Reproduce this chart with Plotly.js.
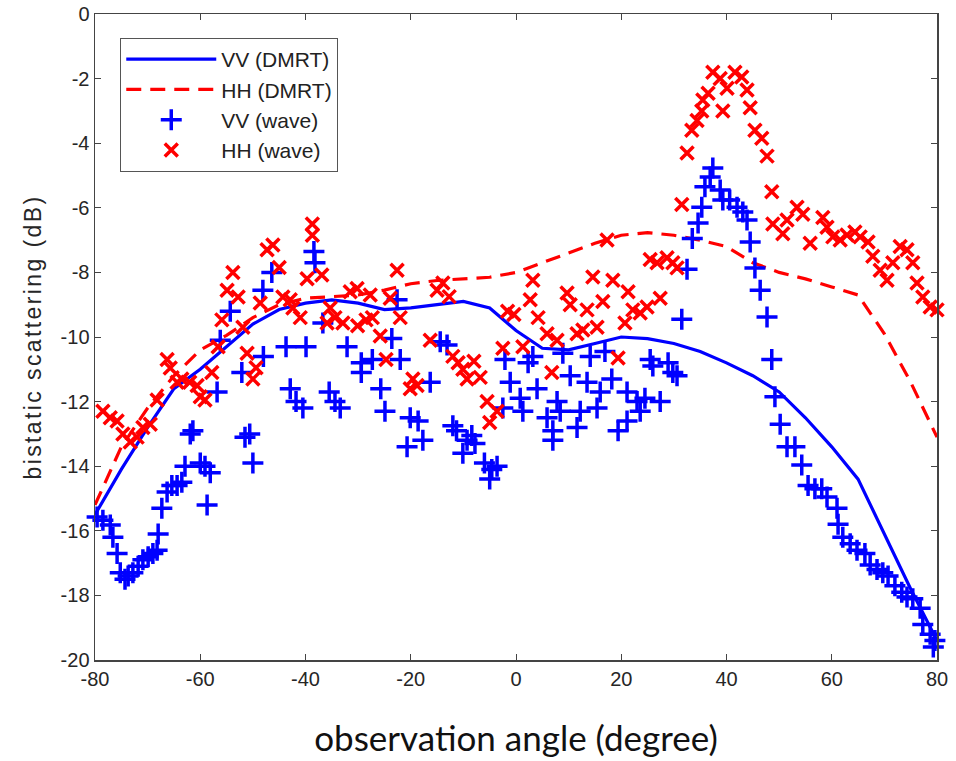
<!DOCTYPE html>
<html>
<head>
<meta charset="utf-8">
<script src="https://cdn.plot.ly/plotly-3.0.1.min.js"></script>
<style>
html,body{margin:0;padding:0;background:#fff;}
#chart{width:956px;height:761px;}
#chart .g-ytitle text{letter-spacing:2.4px;}
</style>
</head>
<body>
<div id="chart"></div>
<script>
// DMRT model curves
const dmrtAngle = [-80,-75,-70,-65,-60,-55,-50,-45,-40,-35,-30,-25,-20,-15,-10,-5,0,5,10,15,20,25,30,35,40,45,50,55,60,65,70,75,80];
const vvDmrt = [-15.5,-14.1,-12.8,-11.6,-11.0,-10.3,-9.6,-9.15,-8.95,-8.85,-8.95,-9.15,-9.1,-9.0,-8.9,-9.1,-9.8,-10.35,-10.4,-10.2,-10.0,-10.05,-10.2,-10.45,-10.8,-11.2,-11.7,-12.5,-13.4,-14.4,-16.1,-17.8,-19.4];
const hhDmrt = [-15.2,-13.4,-12.2,-11.2,-10.4,-9.95,-9.4,-9.0,-8.8,-8.75,-8.7,-8.55,-8.35,-8.25,-8.2,-8.15,-8.0,-7.7,-7.4,-7.1,-6.85,-6.77,-6.85,-7.0,-7.2,-7.7,-8.0,-8.2,-8.45,-8.7,-9.9,-11.4,-13.1];

// VV wave-based simulation
const vvWaveAngle = [-79.6,-78.5,-77.1,-76.6,-75.8,-75.2,-74.3,-73.7,-72.8,-71.8,-70.9,-69.9,-69.0,-68.2,-68.0,-67.3,-66.3,-65.4,-64.4,-63.5,-62.9,-61.9,-61.4,-60.0,-59.1,-58.7,-58.1,-56.8,-56.2,-54.3,-52.1,-51.5,-50.6,-50.0,-48.0,-48.1,-46.4,-43.7,-42.9,-41.8,-40.5,-39.9,-38.4,-38.2,-36.7,-35.5,-34.4,-33.4,-32.1,-29.4,-29.4,-27.3,-25.7,-24.9,-23.6,-22.6,-22.0,-20.7,-20.1,-18.6,-17.7,-16.3,-14.4,-13.1,-12.0,-11.3,-10.1,-9.3,-8.4,-7.8,-6.0,-4.6,-5.0,-3.6,-2.5,-2.1,-1.1,0.8,1.3,2.3,3.2,4.0,5.9,7.0,7.0,7.8,8.4,8.9,10.3,11.6,12.2,13.5,14.1,15.4,16.0,16.9,18.2,19.4,21.1,21.1,23.0,23.6,24.5,25.5,26.0,27.4,28.9,29.8,30.6,31.5,32.5,33.5,34.6,35.3,35.9,36.9,37.4,38.8,39.3,40.6,42.0,43.1,43.9,44.5,45.4,46.4,47.7,48.6,49.2,50.2,51.5,53.0,54.3,55.5,56.8,58.1,59.1,61.0,61.2,62.1,63.5,64.8,66.3,67.3,68.6,69.7,70.7,72.0,73.3,74.3,75.4,76.8,77.3,78.7,79.3,79.6,80.9];
const vvWave = [-15.57,-15.67,-15.82,-16.2,-16.7,-17.3,-17.5,-17.4,-17.3,-17.1,-16.9,-16.8,-16.7,-16.6,-16.1,-15.3,-14.8,-14.6,-14.6,-14.5,-14.0,-13.0,-12.9,-13.9,-14.0,-15.2,-14.2,-11.7,-10.1,-9.2,-11.1,-13.1,-13.0,-13.9,-10.6,-8.55,-8.0,-10.3,-11.6,-12.0,-12.2,-10.3,-7.35,-7.7,-9.57,-11.7,-12.0,-12.2,-10.3,-10.8,-11.1,-10.7,-11.6,-12.3,-10.05,-8.85,-10.7,-13.4,-12.5,-12.6,-13.2,-11.4,-10.15,-10.25,-12.75,-12.9,-13.6,-13.2,-13.05,-13.3,-13.9,-14.1,-14.4,-14.0,-12.2,-10.7,-11.4,-11.9,-12.3,-10.8,-10.6,-11.6,-12.5,-12.9,-13.2,-12.0,-12.3,-10.5,-11.2,-12.8,-12.3,-11.4,-10.6,-12.2,-11.7,-10.45,-11.3,-12.9,-12.6,-11.7,-12.0,-12.3,-11.9,-10.7,-10.9,-12.0,-10.8,-11.1,-11.2,-9.45,-7.9,-6.95,-6.47,-5.98,-5.35,-5.05,-4.77,-5.45,-5.76,-5.76,-5.98,-6.13,-6.38,-7.06,-7.86,-8.55,-9.38,-10.7,-11.85,-12.7,-13.4,-13.4,-13.96,-14.6,-14.7,-14.7,-14.95,-15.3,-15.8,-16.2,-16.4,-16.6,-16.7,-17.06,-17.2,-17.3,-17.4,-17.7,-17.9,-18.05,-18.1,-18.4,-18.9,-19.2,-19.6,-19.4,-18.7];

// HH wave-based simulation
const hhWaveAngle = [-80.4,-78.5,-77.1,-75.8,-74.7,-73.3,-72.0,-70.9,-69.5,-68.2,-66.3,-65.7,-64.4,-63.5,-62.0,-60.6,-60.0,-59.1,-57.8,-56.6,-55.9,-54.9,-53.8,-52.8,-51.9,-51.1,-50.0,-49.4,-48.6,-47.3,-46.2,-45.0,-44.3,-42.9,-42.4,-41.0,-39.7,-38.7,-38.7,-36.9,-35.9,-35.3,-34.4,-32.9,-31.5,-30.2,-30.1,-28.5,-27.7,-27.3,-25.8,-24.7,-23.9,-22.6,-22.0,-20.1,-19.6,-18.8,-16.3,-15.0,-13.9,-12.7,-12.0,-11.0,-10.1,-9.3,-8.0,-6.8,-5.5,-5.0,-3.6,-2.5,-1.6,-0.4,1.3,2.7,3.2,4.2,5.9,6.8,7.8,9.7,10.3,11.6,12.7,13.5,14.6,15.4,16.5,17.3,18.4,19.4,20.7,21.3,22.2,23.6,24.9,25.5,26.8,27.4,28.7,29.8,30.6,31.5,32.5,33.4,34.4,35.3,35.5,36.5,37.4,38.8,39.3,40.1,41.6,42.9,43.9,44.5,45.4,46.7,47.7,48.6,48.8,50.7,51.5,53.4,54.5,55.9,58.3,59.1,60.2,61.6,62.9,64.4,65.4,66.9,67.8,69.2,70.5,71.6,73.0,74.3,75.4,76.2,77.3,78.7,80.0,81.1];
const hhWave = [-12.1,-12.3,-12.5,-12.6,-13.0,-13.25,-13.1,-12.8,-12.7,-11.95,-10.7,-10.96,-11.4,-11.3,-11.4,-11.5,-11.85,-11.95,-11.1,-10.3,-9.47,-8.55,-8.0,-8.76,-9.7,-10.5,-11.3,-10.95,-8.95,-7.3,-7.15,-7.85,-8.76,-8.85,-9.1,-9.4,-8.2,-6.5,-6.85,-8.08,-9.57,-9.1,-9.4,-9.57,-8.6,-8.5,-9.65,-9.47,-8.7,-9.4,-9.97,-10.7,-8.8,-7.93,-9.4,-11.6,-11.3,-11.5,-10.1,-8.55,-8.33,-8.75,-10.6,-10.8,-11.0,-11.3,-10.75,-11.25,-12.0,-12.65,-12.3,-10.35,-9.2,-9.3,-10.3,-8.85,-8.24,-9.4,-9.9,-11.1,-10.1,-8.64,-9.0,-9.9,-9.78,-9.16,-8.14,-9.7,-8.9,-7.0,-8.24,-10.65,-9.57,-8.6,-9.16,-9.26,-9.07,-7.6,-7.7,-8.8,-7.55,-7.7,-7.86,-5.9,-4.3,-3.6,-3.3,-3.0,-2.66,-2.45,-1.8,-2.0,-3.0,-2.3,-1.8,-1.95,-2.35,-2.9,-3.6,-3.85,-4.4,-5.5,-6.5,-6.8,-6.38,-5.98,-6.2,-7.1,-6.3,-6.6,-6.9,-7.0,-6.84,-6.75,-6.9,-7.06,-7.5,-7.93,-8.24,-7.7,-7.2,-7.3,-7.7,-8.33,-8.76,-9.07,-9.16,-9.1];

const xTicks = [-80,-60,-40,-20,0,20,40,60,80];
const yTicks = [-20,-18,-16,-14,-12,-10,-8,-6,-4,-2,0];

const traces = [
  {x: dmrtAngle, y: vvDmrt, type: 'scatter', mode: 'lines', name: 'VV (DMRT)',
   line: {color: '#0000ff', width: 3.2}},
  {x: dmrtAngle, y: hhDmrt, type: 'scatter', mode: 'lines', name: 'HH (DMRT)',
   line: {color: '#ff0000', width: 3.2, dash: '15px,9px'}},
  {x: vvWaveAngle, y: vvWave, type: 'scatter', mode: 'markers', name: 'VV (wave)', cliponaxis: false,
   marker: {symbol: 'cross-thin', size: 15, color: '#0000ff', line: {color: '#0000ff', width: 3.5}}},
  {x: hhWaveAngle, y: hhWave, type: 'scatter', mode: 'markers', name: 'HH (wave)', cliponaxis: false,
   marker: {symbol: 'x-thin', size: 13, color: '#ff0000', line: {color: '#ff0000', width: 3.5}}}
];

const axisCommon = {
  showgrid: false, zeroline: false, showline: true, linecolor: '#444', linewidth: 1.5,
  mirror: 'ticks', ticks: 'inside', ticklen: 6, tickcolor: '#444', tickwidth: 1,
  tickfont: {family: 'Liberation Sans, Arial, sans-serif', size: 20, color: '#262626'}
};

const layout = {
  width: 956, height: 761,
  margin: {l: 95, r: 19, t: 14, b: 101},
  paper_bgcolor: '#fff', plot_bgcolor: '#fff',
  showlegend: true,
  xaxis: Object.assign({}, axisCommon, {
    range: [-80, 80], tickvals: xTicks, ticktext: xTicks.map(String),
    title: {text: 'observation angle (degree)', standoff: 38,
            font: {family: 'Lato, Carlito, sans-serif', size: 35, color: '#111'}}
  }),
  yaxis: Object.assign({}, axisCommon, {
    range: [-20, 0], tickvals: yTicks, ticktext: yTicks.map(String),
    title: {text: 'bistatic scattering (dB)', standoff: 12,
            font: {family: 'Liberation Sans, Arial, sans-serif', size: 23, color: '#262626'}}
  }),
  legend: {
    x: 0.03, y: 0.963, xanchor: 'left', yanchor: 'top',
    bgcolor: '#fff', bordercolor: '#555', borderwidth: 1,
    font: {family: 'Liberation Sans, Arial, sans-serif', size: 21, color: '#222'},
    itemwidth: 90, tracegroupgap: 0
  }
};

Plotly.newPlot('chart', traces, layout, {displayModeBar: false, staticPlot: true});
</script>
</body>
</html>
